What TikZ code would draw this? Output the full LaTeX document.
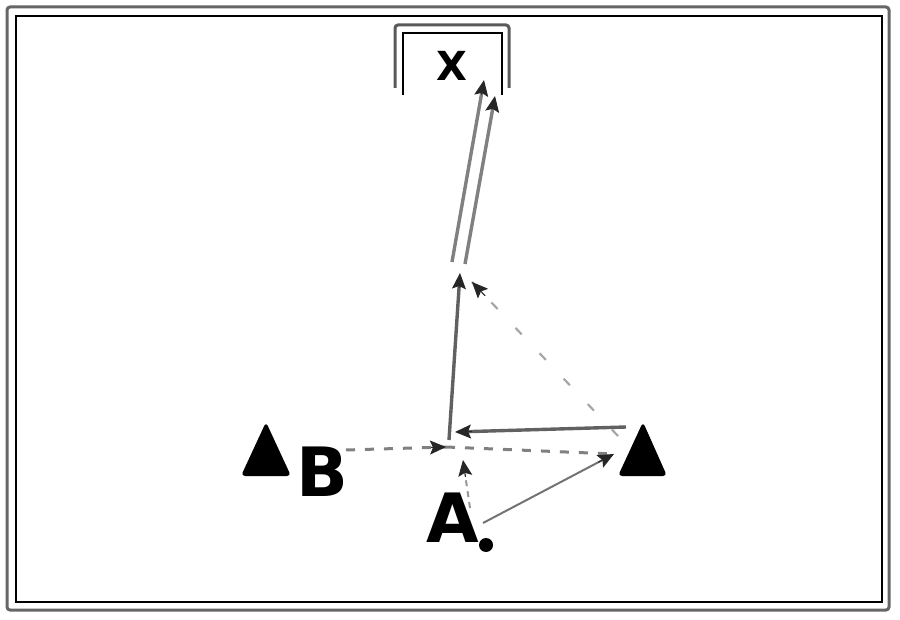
\documentclass[tikz,border=0pt]{standalone}
\usepackage{fontspec}
\setmainfont{DejaVu Sans}
\usetikzlibrary{arrows.meta,calc}
\begin{document}
\begin{tikzpicture}[x=1pt,y=-1pt,
  thin/.style={draw=black!55,line width=2pt},
  thick/.style={draw=black!62,line width=3.4pt},
  dsh/.style={draw=black!50,line width=3pt,dash pattern=on 9pt off 10pt},
  dshlight/.style={draw=black!35,line width=2.2pt,dash pattern=on 9pt off 26pt},
  tip/.style={-{Stealth[length=16pt,width=14pt,inset=3pt]}},
  tipc/.style={draw=black!85,fill=black!85,line width=1pt},
  lbl/.style={font=\bfseries\fontsize{68}{68}\selectfont,inner sep=0pt},
  tri/.style={fill=black,rounded corners=4pt}]
\useasboundingbox (0,0) rectangle (900,620);
% frame
\draw[draw=black!60,line width=3pt,rounded corners=3pt] (7,7) rectangle (889,610);
\draw[line width=1.3pt] (16,16) rectangle (882,602);
% goal
\draw[draw=black!65,line width=3pt,rounded corners=3pt] (395,88) -- (395,25) -- (509,25) -- (509,88);
\draw[line width=1.3pt] (403,95) -- (403,33) -- (502,33) -- (502,95);
\node[inner sep=0pt,font=\bfseries\fontsize{40}{40}\selectfont] (X) at (452,66) {X};
% coordinates
\coordinate (C) at (446,447);
\coordinate (P1) at (460,273);
\coordinate (S1s) at (452,262);
\coordinate (S1) at (484,80);
\coordinate (S2s) at (465,264);
\coordinate (S2) at (495,96);
\coordinate (Bs) at (346,450);
\coordinate (Re) at (614,454);
\coordinate (Rt) at (626,427);
\coordinate (Rr) at (618,436);
\coordinate (Ab) at (455,432);
\coordinate (Ap) at (463,460);
\coordinate (As) at (470,508);
\coordinate (Af) at (483,523);
\coordinate (P1d) at (472,282);
\coordinate (Cv) at (449,440);
% triangles
\fill[tri] (241,476) -- (266,422) -- (291,476) -- cycle;
\coordinate (LT) at (266,455);
\fill[tri] (618,476) -- (643,422) -- (667,476) -- cycle;
\coordinate (RT) at (643,455);
% labels
\node[lbl] (B) at (322,472) {B};
\node[lbl] (A) at (453,518) {A};
\fill (486,545) circle (7pt);
\coordinate (Adot) at (486,545);
% connectors
\draw[dsh] (Bs) -- (C);
\draw[dsh] (C) -- (Re);
\draw[tipc,tip] ($(Bs)!0.85!(C)$) -- (C);
\draw[thick,shorten >=8pt] (Rt) -- (Ab);
\draw[tipc,tip] ($(Ab)!0.1!(Rt)$) -- (Ab);
\draw[thin,shorten >=8pt] (Af) -- (Re);
\draw[tipc,tip] ($(Re)!0.12!(Af)$) -- (Re);
\draw[draw=black!40,line width=2pt,dash pattern=on 6pt off 5pt] (As) -- ($(Ap)!0.3!(As)$);
\draw[tipc,tip] ($(Ap)!0.35!(As)$) -- (Ap);
\draw[dshlight] (Rr) -- (P1d);
\draw[tipc,tip] ($(P1d)!0.09!(Rr)$) -- (P1d);
\draw[thick,shorten >=8pt] (Cv) -- (P1);
\draw[tipc,tip] ($(P1)!0.09!(Cv)$) -- (P1);
\draw[thick,draw=black!50,shorten >=8pt] (S1s) -- (S1);
\draw[tipc,tip] ($(S1)!0.08!(S1s)$) -- (S1);
\draw[thick,draw=black!50,shorten >=8pt] (S2s) -- (S2);
\draw[tipc,tip] ($(S2)!0.08!(S2s)$) -- (S2);
\end{tikzpicture}
\end{document}
